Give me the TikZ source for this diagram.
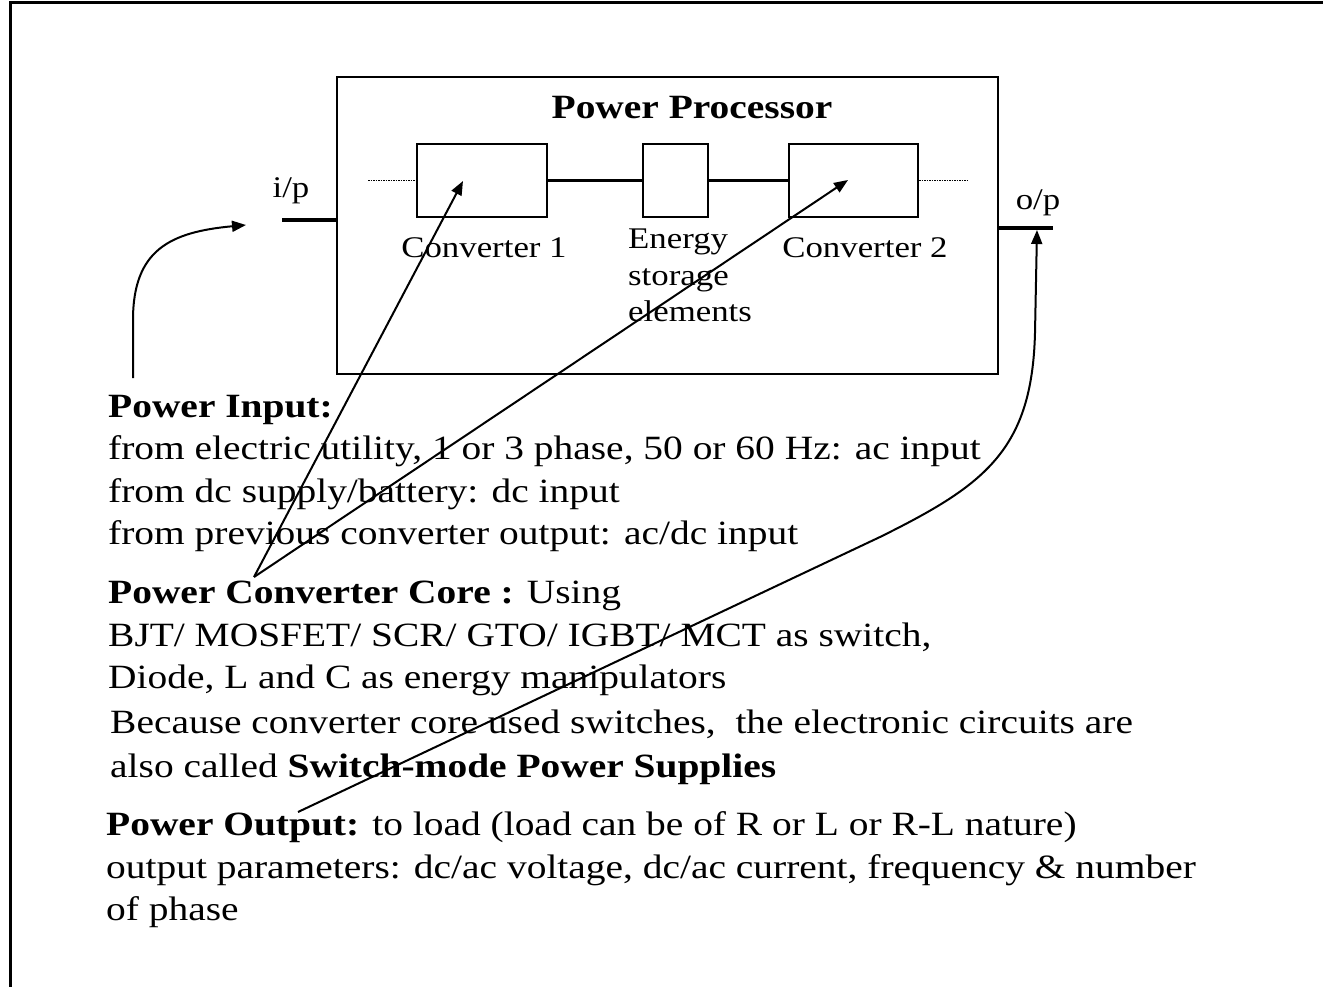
\documentclass[tikz,border=0pt]{standalone}
\usepackage{fontspec}
\setmainfont{Liberation Serif}[FakeStretch=1.16]
\usetikzlibrary{arrows.meta}
\tikzset{
  box/.style={draw, line width=2pt, inner sep=0pt},
  txt/.style={anchor=base west, inner sep=0pt, font=\fontsize{34}{40}\selectfont},
  lbl/.style={inner sep=0pt, font=\fontsize{30}{36}\selectfont},
  conn/.style={line width=2.5pt},
  dots/.style={densely dotted, line width=1.5pt},
  thickline/.style={line width=4pt},
  pointer/.style={line width=2pt, -{Triangle[length=14pt,width=11pt]}},
  frame/.style={line width=3pt}
}
\begin{document}
\begin{tikzpicture}[x=1pt,y=-1pt]
\useasboundingbox (0,0) rectangle (1323,987);
% outer frame (top and left)
\coordinate (fbl) at (10,987);
\coordinate (ftl) at (10,3);
\coordinate (ftr) at (1323,3);
\draw[frame] (fbl) -- (ftl) -- (ftr);
% main box
\node[box, minimum width=661pt, minimum height=297pt] (pp) at (667.5,225.5) {};
\node[anchor=base, inner sep=0pt, font=\fontsize{34}{40}\selectfont\bfseries] (title) at (692,119) {Power Processor};
% inner boxes
\node[box, minimum width=130pt, minimum height=73pt] (c1) at (482,180.5) {};
\node[box, minimum width=65pt, minimum height=73pt] (es) at (675.5,180.5) {};
\node[box, minimum width=129pt, minimum height=73pt] (c2) at (853.5,180.5) {};
\draw[conn] (c1.east) -- (es.west);
\draw[conn] (es.east) -- (c2.west);
\coordinate (dl) at (368,180.5);
\coordinate (dr) at (967,180.5);
\draw[dots] (dl) -- (c1.west);
\draw[dots] (c2.east) -- (dr);
% labels
\node[lbl, anchor=base] (l1) at (484,258) {Converter 1};
\node[lbl, anchor=base] (l2) at (865,258) {Converter 2};
\node[lbl, anchor=base west] (l3) at (628,248) {Energy};
\node[lbl, anchor=base west] (l4) at (628,285) {storage};
\node[lbl, anchor=base west] (l5) at (628,321) {elements};
% input / output
\coordinate (ipl) at (282,220);
\draw[thickline] (ipl) -- (pp.west |- ipl);
\node[lbl, anchor=base] (ip) at (291,198) {i/p};
\coordinate (opr) at (1053,228);
\draw[thickline] (pp.east |- opr) -- (opr);
\node[lbl, anchor=base] (op) at (1038,210) {o/p};
% text block
\node[txt] (t1) at (108,417) {\bfseries Power Input:};
\node[txt] (t2) at (108,459) {from electric utility, 1 or 3 phase, 50 or 60 Hz: ac input};
\node[txt] (t3) at (108,502) {from dc supply/battery: dc input};
\node[txt] (t4) at (108,544) {from previous converter output: ac/dc input};
\node[txt] (t5) at (108,603) {\textbf{Power Converter Core :} Using};
\node[txt] (t6) at (108,646) {BJT/ MOSFET/ SCR/ GTO/ IGBT/ MCT as switch,};
\node[txt] (t7) at (108,688) {Diode, L and C as energy manipulators};
\node[txt] (t8) at (110,733) {Because converter core used switches,\ \ the electronic circuits are};
\node[txt] (t9) at (110,777) {also called \textbf{Switch-mode Power Supplies}};
\node[txt] (t10) at (106,835) {\textbf{Power Output:} to load (load can be of R or L or R-L nature)};
\node[txt] (t11) at (106,878) {output parameters: dc/ac voltage, dc/ac current, frequency \& number};
\node[txt] (t12) at (106,920) {of phase};
% pointers
\coordinate (ps) at (254,577);
\coordinate (c1t) at (463,181);
\coordinate (c2t) at (848,180);
\draw[pointer] (ps) -- (c1t);
\draw[pointer] (ps) -- (c2t);
\coordinate (pis) at (133,378);
\coordinate (pit) at (246,225);
\draw[pointer] (pis) -- (133,320) .. controls (133,250) and (170,232) .. (pit);
\coordinate (pos) at (298,812);
\coordinate (pot) at (1037,230);
\draw[pointer] (pos) -- (880,537) .. controls (985,485) and (1032,450) .. (1035,333) -- (pot);
\end{tikzpicture}
\end{document}
